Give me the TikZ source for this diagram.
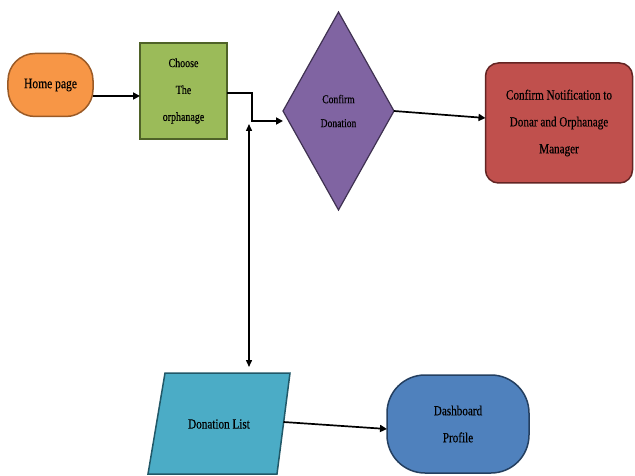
\documentclass[tikz,border=0pt]{standalone}
\usepackage{fontspec}
\setmainfont{Liberation Serif}
\newfontfamily\cf[FakeStretch=0.8,FakeBold=0.4]{Liberation Serif}
\usetikzlibrary{arrows.meta,shapes.geometric,shapes.misc}
\begin{document}
\begin{tikzpicture}[x=1bp,y=-1bp,
  box/.style={draw, line width=1.5bp, align=center, inner sep=0pt, outer sep=0pt, font=\cf},
  arr/.style={line width=1.7bp, -{Triangle[length=7bp,width=7bp]}},
  dblarr/.style={line width=1.4bp, {Triangle[length=7bp,width=6bp]}-{Triangle[length=7bp,width=6bp]}}]
\useasboundingbox (0,0) rectangle (635,476);
\definecolor{orfill}{HTML}{F79646}\definecolor{ordraw}{HTML}{9A5A26}
\definecolor{grfill}{HTML}{9BBB59}\definecolor{grdraw}{HTML}{4F6228}
\definecolor{pufill}{HTML}{8064A2}\definecolor{pudraw}{HTML}{3F3151}
\definecolor{rdfill}{HTML}{C0504D}\definecolor{rddraw}{HTML}{632423}
\definecolor{tlfill}{HTML}{4BACC6}\definecolor{tldraw}{HTML}{215868}
\definecolor{blfill}{HTML}{4F81BD}\definecolor{bldraw}{HTML}{243F60}

\node[box, fill=orfill, draw=ordraw, rounded corners=27bp, minimum width=85bp, minimum height=63bp,
  font=\cf\fontsize{14.5}{26}\selectfont] (home) at (50.5,85) {Home page};
\node[box, fill=grfill, draw=grdraw, minimum width=87bp, minimum height=96bp,
  font=\cf\fontsize{12.5}{27}\selectfont] (choose) at (183.5,91) {Choose\\The\\orphanage};
\node[box, diamond, fill=pufill, draw=pudraw, line width=1.2bp, minimum width=111bp, minimum height=198bp,
  font=\cf\fontsize{12}{24}\selectfont] (conf) at (338.5,111) {Confirm\\Donation};
\node[box, fill=rdfill, draw=rddraw, rounded corners=13bp, minimum width=147bp, minimum height=120bp,
  font=\cf\fontsize{14}{27}\selectfont] (notif) at (559,123) {Confirm Notification to\\Donar and Orphanage\\Manager};
% parallelogram
\draw[fill=tlfill, draw=tldraw, line width=1.5bp] (165,373) -- (290,373) -- (277,474) -- (148,474) -- cycle;
\node[font=\cf\fontsize{14}{27}\selectfont, inner sep=0pt] (dlist) at (219,424) {Donation List};
\coordinate (dliste) at (283.5,422);
\node[box, fill=blfill, draw=bldraw, rounded corners=38bp, minimum width=142bp, minimum height=98bp,
  font=\cf\fontsize{14}{27}\selectfont] (dash) at (458,424) {Dashboard\\Profile};

\coordinate (j2) at (252,121);
\coordinate (vt) at (249,124);
\coordinate (vb) at (249,367);

\draw[arr] ([yshift=-11bp]home.east) -- ([yshift=-11bp]home.east -| choose.west);
\draw[arr] ([yshift=-2bp]choose.east) -| (j2) -- (j2 -| conf.west);
\draw[dblarr] (vt) -- (vb);
\draw[arr] (conf.east) -- ([yshift=5bp]notif.west);
\draw[arr] (dliste) -- ([yshift=-5bp]dash.west);
\end{tikzpicture}
\end{document}
